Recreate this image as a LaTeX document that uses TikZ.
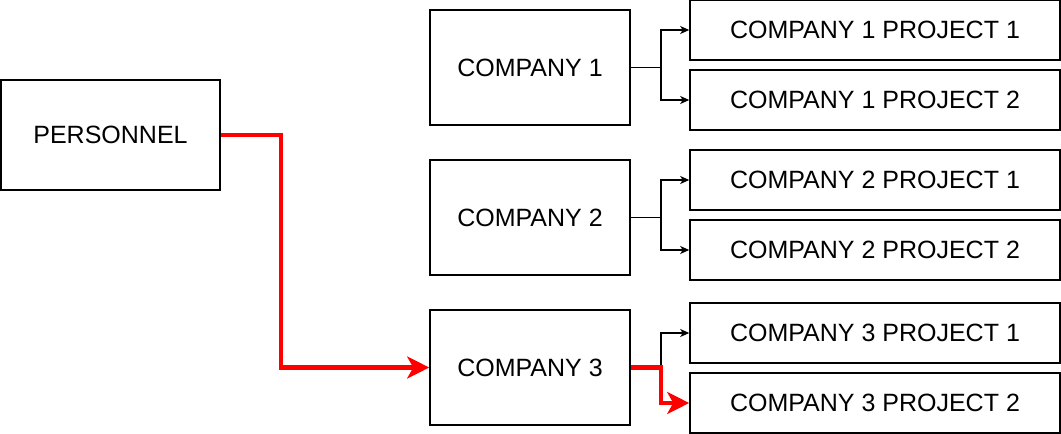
\documentclass[tikz,border=0pt]{standalone}
\usepackage{fontspec}
\setmainfont{Liberation Sans}
\usetikzlibrary{arrows.meta}
\begin{document}
\begin{tikzpicture}[x=1pt,y=-1pt,
  box/.style={draw=black,line width=1.6pt,rectangle,inner sep=0pt,
    font=\fontsize{25}{30}\selectfont,text=black},
  cbox/.style={box,minimum width=200pt,minimum height=115pt},
  pbox/.style={box,minimum width=370pt,minimum height=60pt},
  conn/.style={draw=black,line width=1.4pt,-{Stealth[length=9pt,width=8pt,inset=2.5pt]}},
  hot/.style={draw=red,line width=4.5pt,-{Stealth[length=22pt,width=22pt,inset=6pt]}}]
\useasboundingbox (0,0) rectangle (1061,434);
\node[box,minimum width=219pt,minimum height=110pt] (pers) at (110.5,135) {PERSONNEL};
\node[cbox] (c1) at (530,67.5) {COMPANY 1};
\node[cbox] (c2) at (530,217.5) {COMPANY 2};
\node[cbox] (c3) at (530,367.5) {COMPANY 3};
\node[pbox] (p11) at (875,30) {COMPANY 1 PROJECT 1};
\node[pbox] (p12) at (875,100) {COMPANY 1 PROJECT 2};
\node[pbox] (p21) at (875,180) {COMPANY 2 PROJECT 1};
\node[pbox] (p22) at (875,250) {COMPANY 2 PROJECT 2};
\node[pbox] (p31) at (875,333) {COMPANY 3 PROJECT 1};
\node[pbox] (p32) at (875,403) {COMPANY 3 PROJECT 2};
\draw[conn] (c1.east) -- ++(30,0) |- (p11.west);
\draw[conn] (c1.east) -- ++(30,0) |- (p12.west);
\draw[conn] (c2.east) -- ++(30,0) |- (p21.west);
\draw[conn] (c2.east) -- ++(30,0) |- (p22.west);
\draw[conn] (c3.east) -- ++(30,0) |- (p31.west);
\draw[hot] (pers.east) -- ++(60,0) |- (c3.west);
\draw[hot] (c3.east) -- ++(30,0) |- (p32.west);
\end{tikzpicture}
\end{document}
